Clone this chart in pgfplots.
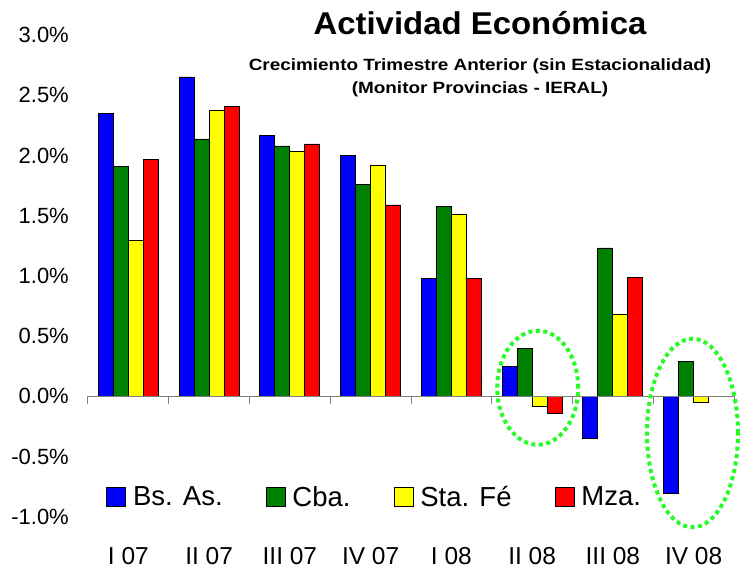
\documentclass[border=0pt]{standalone}
\usepackage{fontspec}
\setmainfont{Liberation Sans}
\usepackage{graphicx}
\usepackage{pgfplots}
\pgfplotsset{compat=1.18}
\definecolor{cBlue}{RGB}{0,0,255}
\definecolor{cGreen}{RGB}{0,128,0}
\definecolor{cYellow}{RGB}{255,255,0}
\definecolor{cRed}{RGB}{255,0,0}
\definecolor{cLime}{RGB}{40,250,40}
\definecolor{cAxis}{RGB}{128,128,128}
\pgfplotsset{sq legend/.style={legend image code/.code={\draw[##1,draw=black,line width=0.8pt] (0pt,-9.5pt) rectangle (19pt,9.5pt);}}}
\begin{document}
\begin{tikzpicture}
\useasboundingbox (0pt,0pt) rectangle (741pt,574pt);
\begin{axis}[
  at={(88pt,57.3pt)}, anchor=south west,
  scale only axis, width=646pt, height=481.7pt,
  xmin=-0.5, xmax=7.5, ymin=-1, ymax=3,
  clip=false,
  axis line style={draw=none},
  major tick length=0pt,
  ybar=0pt, bar width=15pt,
  xtick={0,1,2,3,4,5,6,7},
  xticklabels={I 07,II 07,III 07,IV 07,I 08,II 08,III 08,IV 08},
  ytick={-1,-0.5,0,0.5,1,1.5,2,2.5,3},
  yticklabel={\pgfmathprintnumber[fixed,fixed zerofill,precision=1,assume math mode=true]{\tick}\%},
  yticklabel style={font=\fontsize{22}{24}\selectfont, anchor=east, inner sep=0pt, xshift=-19pt},
  xticklabel style={font=\fontsize{24.5}{26}\selectfont, anchor=north, inner sep=0pt, yshift=-30.6pt},
  legend columns=4,
  legend style={draw=none, fill=none, inner sep=0pt, at={(rel axis cs:0.0279,0.0409)}, anchor=west,
    font=\fontsize{27.5}{29}\selectfont, nodes={inner sep=0pt},
    /tikz/every odd column/.append style={column sep=7pt},
    /tikz/every even column/.append style={column sep=43pt}},
  legend cell align=left,
]
\addplot[fill=cBlue, draw=black, line width=0.8pt, sq legend] coordinates {(0,2.345) (1,2.652) (2,2.168) (3,1.998) (4,0.977) (5,0.25) (6,-0.35) (7,-0.81)};
\addplot[fill=cGreen, draw=black, line width=0.8pt, sq legend] coordinates {(0,1.91) (1,2.137) (2,2.079) (3,1.761) (4,1.575) (5,0.40) (6,1.232) (7,0.29)};
\addplot[fill=cYellow, draw=black, line width=0.8pt, sq legend] coordinates {(0,1.296) (1,2.375) (2,2.037) (3,1.915) (4,1.508) (5,-0.08) (6,0.684) (7,-0.05)};
\addplot[fill=cRed, draw=black, line width=0.8pt, sq legend] coordinates {(0,1.968) (1,2.403) (2,2.095) (3,1.589) (4,0.977) (5,-0.14) (6,0.985)};
\legend{Bs. As.,Cba.,Sta. Fé,Mza.}
\draw[cAxis, line width=1pt] (axis cs:-0.5,0) -- (axis cs:7.5,0);
\pgfplotsinvokeforeach{-0.5,0.5,1.5,2.5,3.5,4.5,5.5,6.5,7.5}{
  \draw[cAxis, line width=1pt] (axis cs:#1,0) -- ++(0pt,-8pt);
}
\draw[cLime, line width=4pt, dash pattern=on 4pt off 3.5pt] (axis cs:5.069,0.071) ellipse [x radius=40.5pt, y radius=57pt];
\draw[cLime, line width=4pt, dash pattern=on 4pt off 3.5pt] (axis cs:6.986,-0.305) ellipse [x radius=45.5pt, y radius=94.3pt];
\end{axis}
\node[anchor=base, font=\bfseries\fontsize{31.5}{34}\selectfont, inner sep=0pt] at (480pt,539pt) {\scalebox{1.045}[1]{Actividad Económica}};
\node[anchor=base, font=\bfseries\fontsize{16.3}{18}\selectfont, inner sep=0pt] at (480pt,503.3pt) {\scalebox{1.16}[1]{Crecimiento Trimestre Anterior (sin Estacionalidad)}};
\node[anchor=base, font=\bfseries\fontsize{16.3}{18}\selectfont, inner sep=0pt] at (480pt,480.7pt) {\scalebox{1.16}[1]{(Monitor Provincias - IERAL)}};
\end{tikzpicture}
\end{document}
